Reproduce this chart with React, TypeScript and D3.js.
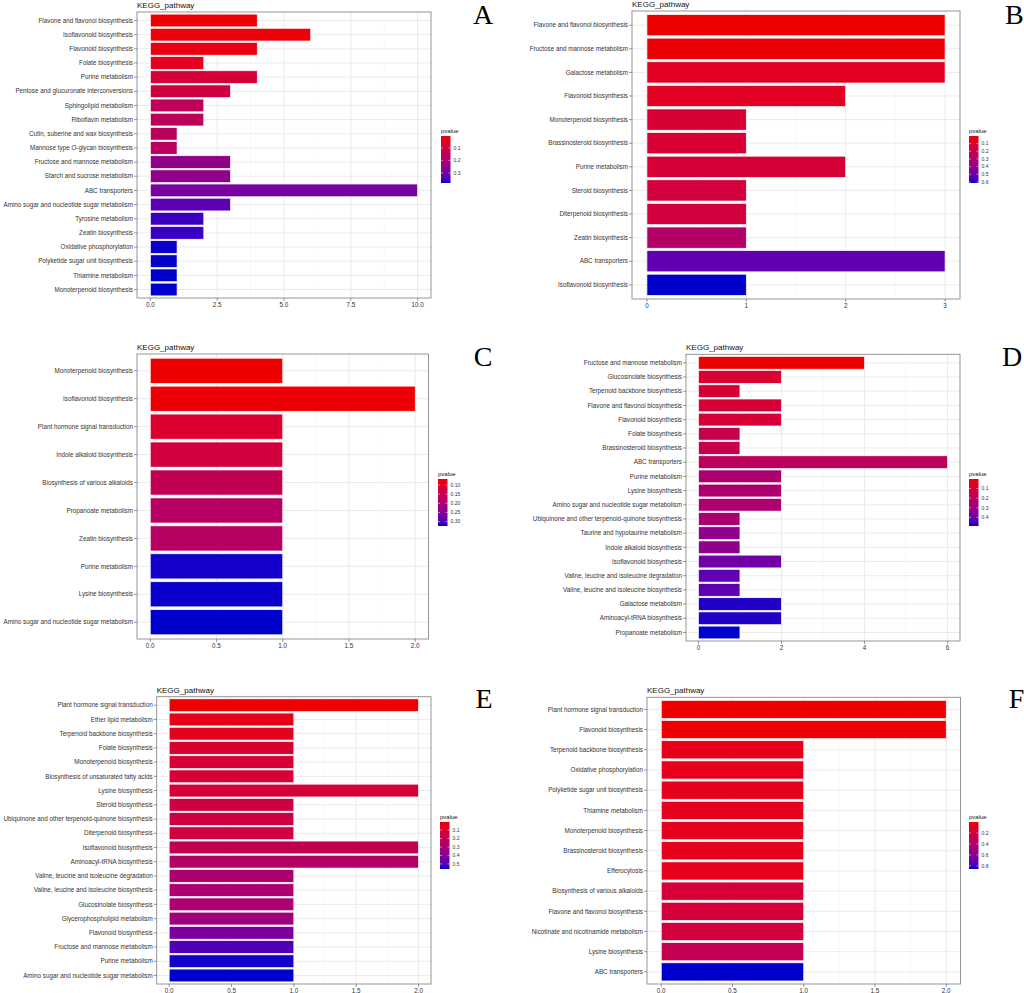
import * as d3 from 'd3';

// Panel A
const aPathways = [
  "Flavone and flavonol biosynthesis", "Isoflavonoid biosynthesis", "Flavonoid biosynthesis",
  "Folate biosynthesis", "Purine metabolism", "Pentose and glucuronate interconversions",
  "Sphingolipid metabolism", "Riboflavin metabolism", "Cutin, suberine and wax biosynthesis",
  "Mannose type O-glycan biosynthesis", "Fructose and mannose metabolism", "Starch and sucrose metabolism",
  "ABC transporters", "Amino sugar and nucleotide sugar metabolism", "Tyrosine metabolism",
  "Zeatin biosynthesis", "Oxidative phosphorylation", "Polyketide sugar unit biosynthesis",
  "Thiamine metabolism", "Monoterpenoid biosynthesis",
];
const aCounts = [4, 6, 4, 2, 4, 3, 2, 2, 1, 1, 3, 3, 10, 3, 2, 2, 1, 1, 1, 1];
const aPvalues = [0.006, 0.0135, 0.021, 0.036, 0.081, 0.1, 0.144, 0.146, 0.155, 0.157, 0.249, 0.251, 0.294, 0.331, 0.361, 0.362, 0.378, 0.379, 0.38, 0.38];
const aTicks = [0, 2.5, 5, 7.5, 10];
const aLegendTicks = [0.1, 0.2, 0.3];

// Panel B
const bPathways = [
  "Flavone and flavonol biosynthesis", "Fructose and mannose metabolism", "Galactose metabolism",
  "Flavonoid biosynthesis", "Monoterpenoid biosynthesis", "Brassinosteroid biosynthesis",
  "Purine metabolism", "Steroid biosynthesis", "Diterpenoid biosynthesis", "Zeatin biosynthesis",
  "ABC transporters", "Isoflavonoid biosynthesis",
];
const bCounts = [3, 3, 3, 2, 1, 1, 2, 1, 1, 1, 3, 1];
const bPvalues = [0.002, 0.008, 0.057, 0.063, 0.112, 0.113, 0.118, 0.136, 0.137, 0.277, 0.527, 0.612];
const bTicks = [0, 1, 2, 3];
const bLegendTicks = [0.1, 0.2, 0.3, 0.4, 0.5, 0.6];

// Panel C
const cPathways = [
  "Monoterpenoid biosynthesis", "Isoflavonoid biosynthesis", "Plant hormone signal transduction",
  "Indole alkaloid biosynthesis", "Biosynthesis of various alkaloids", "Propanoate metabolism",
  "Zeatin biosynthesis", "Purine metabolism", "Lysine biosynthesis",
  "Amino sugar and nucleotide sugar metabolism",
];
const cCounts = [1, 2, 1, 1, 1, 1, 1, 1, 1, 1];
const cPvalues = [0.067, 0.0696, 0.106, 0.124, 0.154, 0.175, 0.176, 0.322, 0.323, 0.324];
const cTicks = [0, 0.5, 1, 1.5, 2];
const cLegendTicks = [0.10, 0.15, 0.20, 0.25, 0.30];

// Panel D
const dPathways = [
  "Fructose and mannose metabolism", "Glucosinolate biosynthesis", "Terpenoid backbone biosynthesis",
  "Flavone and flavonol biosynthesis", "Flavonoid biosynthesis", "Folate biosynthesis",
  "Brassinosteroid biosynthesis", "ABC transporters", "Purine metabolism", "Lysine biosynthesis",
  "Amino sugar and nucleotide sugar metabolism", "Ubiquinone and other terpenoid-quinone biosynthesis",
  "Taurine and hypotaurine metabolism", "Indole alkaloid biosynthesis", "Isoflavonoid biosynthesis",
  "Valine, leucine and isoleucine degradation", "Valine, leucine and isoleucine biosynthesis",
  "Galactose metabolism", "Aminoacyl-tRNA biosynthesis", "Propanoate metabolism",
];
const dCounts = [4, 2, 1, 2, 2, 1, 1, 6, 2, 2, 2, 1, 1, 1, 2, 1, 1, 2, 2, 1];
const dPvalues = [0.001, 0.084, 0.085, 0.094, 0.095, 0.148, 0.149, 0.187, 0.24, 0.241, 0.242, 0.246, 0.324, 0.325, 0.392, 0.421, 0.422, 0.48, 0.481, 0.49];
const dTicks = [0, 2, 4, 6];
const dLegendTicks = [0.1, 0.2, 0.3, 0.4];

// Panel E
const ePathways = [
  "Plant hormone signal transduction", "Ether lipid metabolism", "Terpenoid backbone biosynthesis",
  "Folate biosynthesis", "Monoterpenoid biosynthesis", "Biosynthesis of unsaturated fatty acids",
  "Lysine biosynthesis", "Steroid biosynthesis", "Ubiquinone and other terpenoid-quinone biosynthesis",
  "Diterpenoid biosynthesis", "Isoflavonoid biosynthesis", "Aminoacyl-tRNA biosynthesis",
  "Valine, leucine and isoleucine degradation", "Valine, leucine and isoleucine biosynthesis",
  "Glucosinolate biosynthesis", "Glycerophospholipid metabolism", "Flavonoid biosynthesis",
  "Fructose and mannose metabolism", "Purine metabolism", "Amino sugar and nucleotide sugar metabolism",
];
const eCounts = [2, 1, 1, 1, 1, 1, 2, 1, 1, 1, 2, 2, 1, 1, 1, 1, 1, 1, 1, 1];
const ePvalues = [0.004, 0.037, 0.043, 0.099, 0.104, 0.105, 0.115, 0.143, 0.144, 0.145, 0.193, 0.254, 0.276, 0.278, 0.28, 0.326, 0.421, 0.504, 0.556, 0.56];
const eTicks = [0, 0.5, 1, 1.5, 2];
const eLegendTicks = [0.1, 0.2, 0.3, 0.4, 0.5];

// Panel F
const fPathways = [
  "Plant hormone signal transduction", "Flavonoid biosynthesis", "Terpenoid backbone biosynthesis",
  "Oxidative phosphorylation", "Polyketide sugar unit biosynthesis", "Thiamine metabolism",
  "Monoterpenoid biosynthesis", "Brassinosteroid biosynthesis", "Efferocytosis",
  "Biosynthesis of various alkaloids", "Flavone and flavonol biosynthesis",
  "Nicotinate and nicotinamide metabolism", "Lysine biosynthesis", "ABC transporters",
];
const fCounts = [2, 2, 1, 1, 1, 1, 1, 1, 1, 1, 1, 1, 1, 1];
const fPvalues = [0.001, 0.01, 0.058, 0.059, 0.06, 0.061, 0.062, 0.063, 0.064, 0.172, 0.173, 0.19, 0.283, 0.856];
const fTicks = [0, 0.5, 1, 1.5, 2];
const fLegendTicks = [0.2, 0.4, 0.6, 0.8];

const LOW = "#ee0000";
const HIGH = "#0000cc";
const SANS = "'Liberation Sans', Arial, Helvetica, sans-serif";

interface PanelProps {
  id: string;
  letter: string;
  pathways: string[];
  counts: number[];
  pvalues: number[];
  ticks: number[];
  tickFmt: string;
  legendTicks: number[];
  legendFmt: string;
  left: number;
  right: number;
  top: number;
  bottom: number;
  legendX: number;
  legendTop: number;
  letterX: number;
  letterY: number;
  letterAnchor: string;
}

const Panel = (p: PanelProps) => {
  const maxCount = d3.max(p.counts) as number;
  // ggplot style 5% expansion on the continuous axis
  const x = d3.scaleLinear()
    .domain([-0.05 * maxCount, 1.05 * maxCount])
    .range([p.left, p.right]);
  // discrete axis with 0.6 unit expansion
  const y = d3.scalePoint<string>()
    .domain(p.pathways)
    .range([p.top, p.bottom])
    .padding(0.6);
  const bh = y.step() * 0.9;

  const [pmin, pmax] = d3.extent(p.pvalues) as [number, number];
  const color = d3.scaleLinear<string>()
    .domain([pmin, pmax])
    .range([LOW, HIGH])
    .interpolate(d3.interpolateLab);

  const minor = p.ticks.slice(1).map((t, i) => (t + p.ticks[i]) / 2);
  const fmt = d3.format(p.tickFmt);
  const lfmt = d3.format(p.legendFmt);

  const legH = 47;
  const legW = 9.5;
  const ly = d3.scaleLinear().domain([pmin, pmax]).range([p.legendTop, p.legendTop + legH]);
  const gradId = `grad-${p.id}`;
  const stops = d3.range(0, 1.0001, 0.1);

  return (
    <g>
      <defs>
        <linearGradient id={gradId} x1="0" y1="0" x2="0" y2="1">
          {stops.map(s => (
            <stop key={s} offset={s} stopColor={color(pmin + s * (pmax - pmin))} />
          ))}
        </linearGradient>
      </defs>

      {/* panel grid */}
      <rect x={p.left} y={p.top} width={p.right - p.left} height={p.bottom - p.top} fill="white" />
      {minor.map(t => (
        <line key={`mn${t}`} x1={x(t)} x2={x(t)} y1={p.top} y2={p.bottom} stroke="#f2f2f2" strokeWidth={0.5} />
      ))}
      {p.ticks.map(t => (
        <line key={`mj${t}`} x1={x(t)} x2={x(t)} y1={p.top} y2={p.bottom} stroke="#e6e6e6" strokeWidth={0.8} />
      ))}
      {p.pathways.map(name => (
        <line key={`h${name}`} x1={p.left} x2={p.right} y1={y(name)} y2={y(name)} stroke="#e6e6e6" strokeWidth={0.8} />
      ))}

      {/* bars */}
      {p.pathways.map((name, i) => (
        <rect
          key={`b${name}`}
          x={x(0)}
          y={(y(name) as number) - bh / 2}
          width={x(p.counts[i]) - x(0)}
          height={bh}
          fill={color(p.pvalues[i])}
          stroke="white"
          strokeWidth={0.7}
        />
      ))}

      <rect x={p.left} y={p.top} width={p.right - p.left} height={p.bottom - p.top} fill="none" stroke="#8a8a8a" strokeWidth={0.9} />

      {/* y axis */}
      {p.pathways.map(name => (
        <g key={`y${name}`}>
          <line x1={p.left - 3} x2={p.left} y1={y(name)} y2={y(name)} stroke="#555" strokeWidth={0.6} />
          <text x={p.left - 4} y={(y(name) as number) + 2.2} textAnchor="end" fontSize={6.3} fill="#333" fontFamily={SANS}>
            {name}
          </text>
        </g>
      ))}

      {/* x axis */}
      {p.ticks.map(t => (
        <g key={`x${t}`}>
          <line x1={x(t)} x2={x(t)} y1={p.bottom} y2={p.bottom + 3} stroke="#555" strokeWidth={0.6} />
          <text x={x(t)} y={p.bottom + 9} textAnchor="middle" fontSize={6.3} fill="#333" fontFamily={SANS}>
            {fmt(t)}
          </text>
        </g>
      ))}

      <text x={p.left} y={p.top - 4} fontSize={8} fill="#111" fontFamily={SANS}>KEGG_pathway</text>

      {/* legend */}
      <text x={p.legendX} y={p.legendTop - 3.5} fontSize={6} fill="#111" fontFamily={SANS}>pvalue</text>
      <rect x={p.legendX} y={p.legendTop} width={legW} height={legH} fill={`url(#${gradId})`} />
      {p.legendTicks.map(t => (
        <g key={`l${t}`}>
          <line x1={p.legendX} x2={p.legendX + 2} y1={ly(t)} y2={ly(t)} stroke="white" strokeWidth={0.5} />
          <line x1={p.legendX + legW - 2} x2={p.legendX + legW} y1={ly(t)} y2={ly(t)} stroke="white" strokeWidth={0.5} />
          <text x={p.legendX + legW + 3} y={ly(t) + 1.8} fontSize={5} fill="#333" fontFamily={SANS}>{lfmt(t)}</text>
        </g>
      ))}

      <text x={p.letterX} y={p.letterY} textAnchor={p.letterAnchor} fontSize={28} fill="#000" fontFamily="'Liberation Serif', 'Times New Roman', serif">
        {p.letter}
      </text>
    </g>
  );
};

const App = () => {
  return (
    <svg width={1024} height={993} style={{ position: 'absolute', left: 0, top: 0, background: 'white' }}>
      <rect width={1024} height={993} fill="white" />
      <Panel id="a" letter="A" pathways={aPathways} counts={aCounts} pvalues={aPvalues}
        ticks={aTicks} tickFmt=".1f" legendTicks={aLegendTicks} legendFmt=".1f"
        left={137} right={431} top={12} bottom={298} legendX={441} legendTop={136}
        letterX={483} letterY={24} letterAnchor="middle" />
      <Panel id="b" letter="B" pathways={bPathways} counts={bCounts} pvalues={bPvalues}
        ticks={bTicks} tickFmt="d" legendTicks={bLegendTicks} legendFmt=".1f"
        left={632} right={960} top={11} bottom={299} legendX={969} legendTop={136}
        letterX={1005} letterY={24} letterAnchor="start" />
      <Panel id="c" letter="C" pathways={cPathways} counts={cCounts} pvalues={cPvalues}
        ticks={cTicks} tickFmt=".1f" legendTicks={cLegendTicks} legendFmt=".2f"
        left={137} right={428.5} top={354} bottom={639} legendX={438} legendTop={479}
        letterX={483} letterY={366} letterAnchor="middle" />
      <Panel id="d" letter="D" pathways={dPathways} counts={dCounts} pvalues={dPvalues}
        ticks={dTicks} tickFmt="d" legendTicks={dLegendTicks} legendFmt=".1f"
        left={686} right={960} top={354.3} bottom={641} legendX={969} legendTop={479}
        letterX={1002} letterY={366} letterAnchor="start" />
      <Panel id="e" letter="E" pathways={ePathways} counts={eCounts} pvalues={ePvalues}
        ticks={eTicks} tickFmt=".1f" legendTicks={eLegendTicks} legendFmt=".1f"
        left={156.7} right={431} top={696.7} bottom={984} legendX={440} legendTop={822}
        letterX={484} letterY={708} letterAnchor="middle" />
      <Panel id="f" letter="F" pathways={fPathways} counts={fCounts} pvalues={fPvalues}
        ticks={fTicks} tickFmt=".1f" legendTicks={fLegendTicks} legendFmt=".1f"
        left={647} right={960.5} top={697.3} bottom={984} legendX={969} legendTop={822}
        letterX={1008.7} letterY={708} letterAnchor="start" />
    </svg>
  );
};

export default App;
